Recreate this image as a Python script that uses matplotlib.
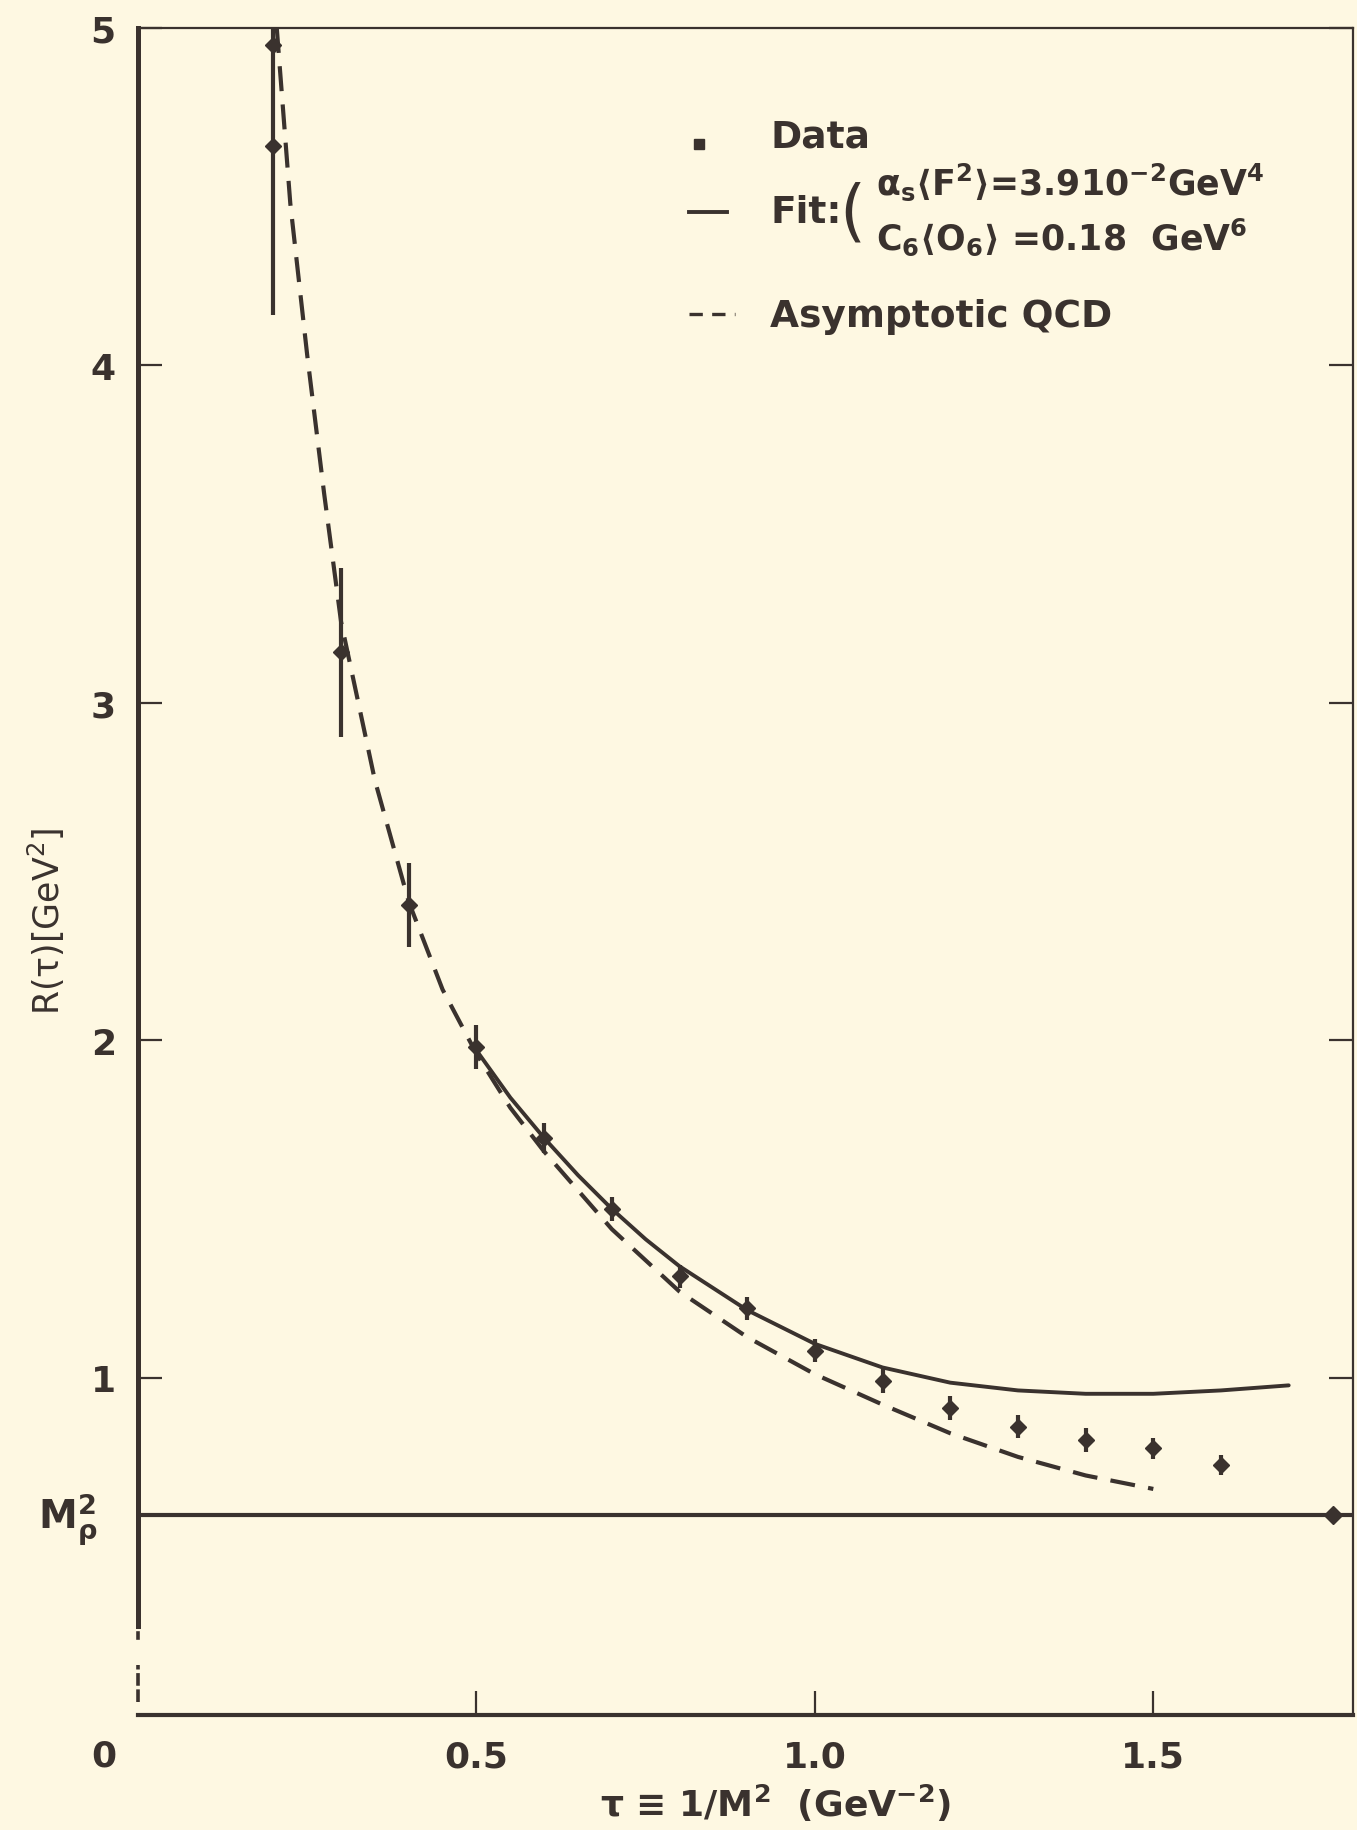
import matplotlib
matplotlib.use("Agg")
import matplotlib.pyplot as plt
from matplotlib.lines import Line2D

# Daten: R(tau)
tau_data = [0.2, 0.2, 0.3, 0.4, 0.5, 0.6, 0.7, 0.8, 0.9, 1.0, 1.1, 1.2, 1.3, 1.4, 1.5, 1.6]
r_data = [4.95, 4.65, 3.15, 2.40, 1.98, 1.71, 1.50, 1.30, 1.205, 1.08, 0.99, 0.91, 0.855, 0.815, 0.79, 0.74]
r_err = [0.0, 0.5, 0.25, 0.125, 0.065, 0.045, 0.035, 0.035, 0.035, 0.035, 0.035, 0.035, 0.035, 0.035, 0.03, 0.03]

# Fit (durchgezogen), sichtbar erst ab tau ~ 0.5
tau_fit = [0.50, 0.55, 0.60, 0.65, 0.70, 0.75, 0.80, 0.90, 1.00, 1.10, 1.20, 1.30, 1.40, 1.50, 1.60, 1.70]
r_fit = [1.97, 1.83, 1.71, 1.60, 1.50, 1.41, 1.33, 1.20, 1.10, 1.03, 0.985, 0.962, 0.952, 0.952, 0.962, 0.977]

# asymptotische QCD (gestrichelt)
tau_qcd = [0.205, 0.225, 0.25, 0.275, 0.30, 0.35, 0.40, 0.45, 0.50, 0.55, 0.60, 0.70,
           0.80, 0.90, 1.00, 1.10, 1.20, 1.30, 1.40, 1.50]
r_qcd = [5.0, 4.48, 4.03, 3.62, 3.24, 2.77, 2.41, 2.15, 1.96, 1.80, 1.67, 1.44,
         1.255, 1.12, 1.01, 0.92, 0.835, 0.765, 0.71, 0.67]

m_rho2 = 0.593
m_rho2_mark_tau = 1.765

x_ticks = [0.5, 1.0, 1.5]
x_ticklabels = ["0.5", "1.0", "1.5"]
y_ticks = [1, 2, 3, 4, 5]
y_ticklabels = ["1", "2", "3", "4", "5"]

INK = "#3a322e"
BG = "#fef8e2"
W, H = 1357, 1831

plt.rcParams["font.family"] = ["DejaVu Sans"]
plt.rcParams["mathtext.fontset"] = "dejavusans"
plt.rcParams["mathtext.default"] = "regular"


def fx(px):
    return px / W


def fy(py):
    return 1 - py / H


fig = plt.figure(figsize=(W / 100, H / 100), dpi=100, facecolor=BG)
ax = fig.add_axes([fx(138), fy(1716), 1215 / W, 1687 / H])
ax.set_facecolor(BG)
ax.set_xlim(0, 1.795)
ax.set_ylim(0, 5)

# Kurven
ax.plot(tau_qcd, r_qcd, color=INK, lw=3.0, linestyle=(0, (6, 3.2)), dash_capstyle="butt")
ax.plot(tau_fit, r_fit, color=INK, lw=2.8, solid_capstyle="round")
ax.errorbar(tau_data, r_data, yerr=r_err, fmt="D", ms=8, color=INK, mec=INK,
            elinewidth=3.0, capsize=0, zorder=5)

# M_rho^2 Linie
ax.axhline(m_rho2, color=INK, lw=3.0)
ax.plot([m_rho2_mark_tau], [m_rho2], "D", ms=9, color=INK, clip_on=False)

# Achsen
for side, lw in [("left", 3.6), ("bottom", 3.0), ("top", 1.6), ("right", 1.6)]:
    ax.spines[side].set_linewidth(lw)
    ax.spines[side].set_color(INK)
ax.spines["left"].set_bounds(0.265, 5)
ax.plot([0, 0], [0.038, 0.148], color=INK, lw=2.6, linestyle=(0, (3.5, 1)), clip_on=False)
ax.plot([0, 0], [0.228, 0.242], color=INK, lw=2.6, clip_on=False)

ax.set_xticks(x_ticks, x_ticklabels)
ax.set_yticks(y_ticks, y_ticklabels)
ax.tick_params(direction="in", length=17, width=1.6, colors=INK, labelsize=26,
               right=True, top=False, pad=18)
ax.tick_params(axis="y", pad=16)
for lab in ax.get_xticklabels() + ax.get_yticklabels():
    lab.set_fontweight("bold")

fig.text(fx(104), fy(1757), "0", fontsize=26, fontweight="bold", color=INK, ha="center", va="center")
fig.text(fx(68), fy(1520), r"M$_\rho^2$", fontsize=28, fontweight="bold", color=INK,
         ha="center", va="center")
fig.text(fx(46), fy(921), r"R(τ)[GeV$^2$]", fontsize=25, color=INK, rotation=90,
         ha="center", va="center")
fig.text(fx(775), fy(1803), r"τ ≡ 1/M$^2$  (GeV$^{-2}$)", fontsize=26, fontweight="bold",
         color=INK, ha="center", va="center")

# Legende
fig.add_artist(Line2D([fx(699)], [fy(145)], marker="s", ms=7, color=INK, transform=fig.transFigure))
fig.add_artist(Line2D([fx(689), fx(727)], [fy(213), fy(213)], lw=2.8, color=INK,
                      transform=fig.transFigure))
fig.add_artist(Line2D([fx(689), fx(735)], [fy(315), fy(315)], lw=2.4, color=INK,
                      linestyle=(0, (4, 2.8)), transform=fig.transFigure))
fig.text(fx(770), fy(138), "Data", fontsize=27, fontweight="bold", color=INK, va="center")
fig.text(fx(770), fy(213), "Fit:", fontsize=27, fontweight="bold", color=INK, va="center")
fig.text(fx(852), fy(215), "(", fontsize=48, color=INK, ha="center", va="center")
fig.text(fx(876), fy(182), r"$\alpha_s\langle F^2\rangle$=3.910$^{-2}$GeV$^4$", fontsize=25,
         fontweight="bold", color=INK, va="center")
fig.text(fx(876), fy(237), r"C$_6\langle$O$_6\rangle$ =0.18  GeV$^6$", fontsize=25,
         fontweight="bold", color=INK, va="center")
fig.text(fx(770), fy(317), "Asymptotic QCD", fontsize=27, fontweight="bold", color=INK, va="center")

fig.savefig("out.png", dpi=100, facecolor=BG)
